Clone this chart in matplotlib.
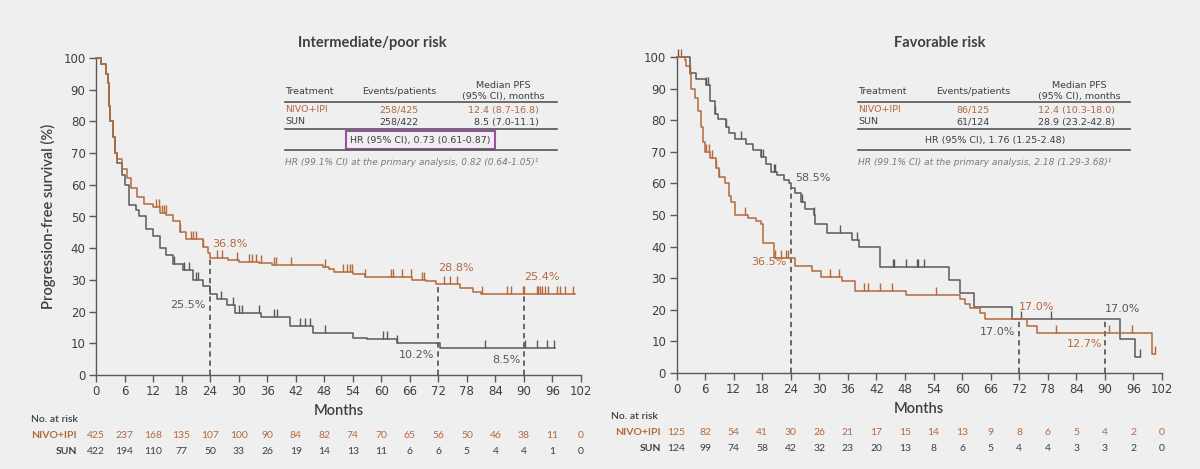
import matplotlib
matplotlib.use("Agg")
import matplotlib.pyplot as plt
import matplotlib.transforms as mtransforms
from matplotlib.lines import Line2D
from matplotlib.patches import Rectangle
import numpy as np

plt.rcParams['font.family'] = ['Lato', 'DejaVu Sans']

# ---------------- data ----------------
months_ticks = list(range(0, 103, 6))
y_ticks = list(range(0, 101, 10))

# Intermediate/poor risk
ip_nivo_t = [0, 1, 2, 2.5, 2.8, 3.0, 3.5, 4.0, 4.5, 5.5, 6.5, 7.3, 8.7, 10, 12, 13.4, 14.8, 16.2, 17.6, 19,
             22.5, 23.5, 24, 27.7, 30, 34.2, 37, 47.8, 49, 50, 54.1, 56.5, 66.4, 69.5, 71.6, 76.5, 79.3, 81,
             85.6, 100.7]
ip_nivo_s = [100, 98, 95, 92, 85, 80, 75, 70, 68, 65, 62, 59, 56, 54, 53, 51, 50.5, 48.5, 45, 43,
             40.5, 38.5, 36.8, 36.2, 35.7, 35.3, 34.7, 34.2, 33.3, 32.6, 31.8, 31.0, 30, 29.5, 28.8, 27.6, 26.2, 25.7,
             25.4, 25.4]
ip_nivo_cens = [12.7, 13.3, 13.8, 14.3, 14.7, 17.6, 20.0, 20.5, 21.1, 22.5, 25.4, 26.5, 29.7, 32.2, 32.9, 33.6,
                34.7, 37.5, 37.8, 41.0, 48.2, 52.0, 52.8, 53.4, 53.9, 56.5, 62.0, 62.4, 64.4, 66.2, 68.6, 69.0,
                73.1, 74.5, 75.9, 81.1, 86.4, 87.2, 89.7, 90.0, 92.7, 93.0, 93.4, 93.9, 94.4, 95.1, 96.9, 97.6,
                98.6, 100.4]

ip_sun_t = [0, 1, 2, 2.5, 2.8, 3.0, 3.5, 4.0, 4.5, 5.5, 6.0, 6.9, 8.4, 9.1, 10.5, 12, 13.4, 14.8, 16.2, 18.3,
            20.5, 22.5, 24, 25.4, 27.5, 29.3, 34.7, 40.8, 45.7, 54.1, 56.9, 63.2, 72.3, 96.5]
ip_sun_s = [100, 98, 95, 92, 85, 80, 75, 70, 67, 63, 60, 53.5, 52, 50, 46, 44, 40, 38, 35, 33,
            30, 28, 25.5, 24, 22, 19.5, 18.4, 15.3, 13.2, 11.8, 11.3, 10.2, 8.5, 8.5]
ip_sun_cens = [16.5, 18.5, 19.5, 21.0, 21.5, 26.3, 28.9, 30.0, 30.7, 34.2, 37.5, 38.0, 42.9, 43.9, 45.0,
               48.2, 60.4, 61.1, 63.2, 81.8, 90.2, 92.7, 94.8, 96.4]

ip_risk_nivo = [425, 237, 168, 135, 107, 100, 90, 84, 82, 74, 70, 65, 56, 50, 46, 38, 11, 0]
ip_risk_sun = [422, 194, 110, 77, 50, 33, 26, 19, 14, 13, 11, 6, 6, 5, 4, 4, 1, 0]

# Favorable risk
fav_nivo_t = [0, 1.7, 2.1, 2.8, 3.1, 3.8, 4.5, 5.2, 5.6, 5.9, 7.0, 8.3, 9.0, 10.1, 11.1, 11.5, 12.2, 15.0,
              16.7, 17.7, 18.1, 20.5, 25.0, 28.5, 30.3, 34.8, 37.6, 48.2, 59.6, 60.7, 61.7, 63.8, 64.9, 73.6,
              75.7, 99.8, 100.5]
fav_nivo_s = [100, 99, 97, 94.7, 90, 87, 83, 78, 73, 70, 68, 65, 62, 60, 56, 54, 50, 49,
              48, 47, 41, 36.5, 34, 32.3, 30.5, 29, 26, 24.7, 23.4, 21.9, 20.5, 19, 17.0, 14.9,
              12.7, 6.1, 6.1]
fav_nivo_cens = [1.0, 6.3, 6.8, 7.5, 8.3, 9.0, 14.3, 20.6, 21.9, 23.0, 23.5, 32.3, 34.2, 39.3, 40.3, 42.8,
                 45.2, 54.6, 79.8, 90.9, 95.7, 100.5]

fav_sun_t = [0, 2.8, 4.2, 6.3, 7.0, 8.0, 8.7, 10.4, 11.1, 12.2, 14.6, 16.0, 17.7, 18.8, 19.8, 21.2, 22.6,
             23.7, 24.0, 25.0, 26.1, 27.1, 28.9, 29.2, 31.7, 36.9, 38.3, 42.8, 57.2, 59.6, 62.4, 70.5, 93.2,
             96.3, 97.4]
fav_sun_s = [100, 95, 93, 91, 86, 82, 80.5, 78, 76, 74, 72.5, 70.5, 68.5, 66, 63.5, 62.5, 61,
             60, 58.5, 57, 54, 52, 50, 47, 44.2, 42.1, 40, 33.7, 29.4, 25.2, 20.8, 17.0, 10.8,
             5.2, 5.2]
fav_sun_cens = [0.3, 2.8, 6.3, 6.6, 8.0, 10.4, 13.6, 17.8, 18.2, 20.4, 20.7, 26.4, 28.9, 34.4, 38.0, 45.4,
                45.7, 48.3, 50.5, 50.8, 52.0, 72.4, 78.6, 97.4]

fav_risk_nivo = [125, 82, 54, 41, 30, 26, 21, 17, 15, 14, 13, 9, 8, 6, 5, 4, 2, 0]
fav_risk_sun = [124, 99, 74, 58, 42, 32, 23, 20, 13, 8, 6, 5, 4, 4, 3, 3, 2, 0]

# ---------------- style ----------------
BG = '#EFEFEF'
ORANGE = '#B5693C'
GRAY = '#595959'
TXT = '#3f3f3f'
PURPLE = '#9B4FA3'
DV = ['DejaVu Sans']

W, H = 1200, 469
fig = plt.figure(figsize=(12, 4.69), dpi=100, facecolor=BG)


def fx(x):
    return x / W


def fy(y):
    return 1 - y / H


def step_val(t, s, x):
    idx = np.searchsorted(np.asarray(t), x, side='right') - 1
    idx = max(0, min(idx, len(s) - 1))
    return s[idx]


def setup_axes(rect):
    ax = fig.add_axes(rect)
    ax.set_facecolor(BG)
    ax.set_xlim(0, 102)
    ax.set_ylim(0, 100)
    ax.set_xticks(months_ticks)
    ax.set_yticks(y_ticks)
    for sp in ['top', 'right']:
        ax.spines[sp].set_visible(False)
    for sp in ['left', 'bottom']:
        ax.spines[sp].set_color(GRAY)
        ax.spines[sp].set_linewidth(1.0)
    ax.tick_params(colors=GRAY, labelcolor=TXT, labelsize=8.5, length=5, width=1.0, pad=2.5)
    for lab in ax.get_xticklabels() + ax.get_yticklabels():
        lab.set_family(DV)
    ax.set_xlabel('Months', fontsize=10.5, color=TXT, fontweight='semibold', labelpad=4)
    return ax


def draw_curve(ax, t, s, cens, color):
    ax.step(t, s, where='post', color=color, lw=1.1, clip_on=False, zorder=3)
    cy = [step_val(t, s, c) for c in cens]
    ax.plot(cens, cy, linestyle='none', marker=2, markersize=6, markeredgewidth=1.0,
            color=color, clip_on=False, zorder=3)


def vdash(ax, x, ytop):
    ax.plot([x, x], [0, ytop], color='#444444', lw=1.1, ls=(0, (3.5, 2.5)), zorder=2)


def risk_table(ax, nivo, sun, y_lab, y_n, y_s, lab_right, lab_left):
    tr = mtransforms.blended_transform_factory(ax.transData, fig.transFigure)
    for m, a, b in zip(months_ticks, nivo, sun):
        ax.text(m, fy(y_n), str(a), transform=tr, ha='center', va='center', fontsize=7.5,
                color=ORANGE, clip_on=False)
        ax.text(m, fy(y_s), str(b), transform=tr, ha='center', va='center', fontsize=7.5,
                color=TXT, clip_on=False)
    fig.text(fx(lab_left), fy(y_lab), 'No. at risk', ha='left', va='center', fontsize=7.5, color=TXT,
             fontweight='semibold')
    fig.text(fx(lab_right), fy(y_n), 'NIVO+IPI', ha='right', va='center', fontsize=7.5, color=ORANGE,
             fontweight='bold')
    fig.text(fx(lab_right), fy(y_s), 'SUN', ha='right', va='center', fontsize=7.5, color=TXT,
             fontweight='bold')


def hline(x0, x1, y, lw=1.2):
    fig.add_artist(Line2D([fx(x0), fx(x1)], [fy(y), fy(y)], color='#555555', lw=lw))


def pfs_table(x0, x1, ev_c, med_r, ev_n, ev_s, med_n, med_s, hr_text, hr_x, primary, box=None):
    fs = 6.8
    kw = dict(va='center', fontsize=fs, family=DV)
    fig.text(fx(x0), fy(91), 'Treatment', ha='left', color=TXT, **kw)
    fig.text(fx(ev_c), fy(91), 'Events/patients', ha='center', color=TXT, **kw)
    fig.text(fx(med_r - 36), fy(85), 'Median PFS', ha='center', color=TXT, **kw)
    fig.text(fx(med_r - 36), fy(96.5), '(95% CI), months', ha='center', color=TXT, **kw)
    hline(x0, x1, 102.5)
    fig.text(fx(x0), fy(110), 'NIVO+IPI', ha='left', color=ORANGE, **kw)
    fig.text(fx(x0), fy(122), 'SUN', ha='left', color=TXT, **kw)
    fig.text(fx(ev_c), fy(110), ev_n, ha='center', color=ORANGE, **kw)
    fig.text(fx(ev_c), fy(122), ev_s, ha='center', color=TXT, **kw)
    fig.text(fx(med_r), fy(110), med_n, ha='right', color=ORANGE, **kw)
    fig.text(fx(med_r), fy(122), med_s, ha='right', color=TXT, **kw)
    hline(x0, x1, 129)
    fig.text(fx(hr_x), fy(140.5), hr_text, ha='center', color=TXT, **kw)
    if box is not None:
        bx0, bx1 = box
        fig.add_artist(Rectangle((fx(bx0), fy(149)), fx(bx1 - bx0), (149 - 131.5) / H,
                                 fill=False, edgecolor=PURPLE, lw=1.5))
    hline(x0, x1, 150.5)
    fig.text(fx(x0), fy(162), primary, ha='left', color='#7a7a7a', fontstyle='italic',
             va='center', fontsize=6.5, family=DV)


ann_kw = dict(fontsize=8, family=DV)

# ---------------- left panel ----------------
axL = setup_axes([fx(96), fy(375), (581 - 96) / W, (375 - 58) / H])
axL.set_ylabel('Progression-free survival (%)', fontsize=10.5, color=TXT, fontweight='semibold', labelpad=5)
draw_curve(axL, ip_sun_t, ip_sun_s, ip_sun_cens, GRAY)
draw_curve(axL, ip_nivo_t, ip_nivo_s, ip_nivo_cens, ORANGE)
vdash(axL, 24, 36.8)
vdash(axL, 72, 28.8)
vdash(axL, 90, 25.4)
axL.text(24.4, 41.3, '36.8%', color=ORANGE, ha='left', va='center', **ann_kw)
axL.text(23.1, 22.0, '25.5%', color=GRAY, ha='right', va='center', **ann_kw)
axL.text(72.0, 33.8, '28.8%', color=ORANGE, ha='left', va='center', **ann_kw)
axL.text(90.0, 30.9, '25.4%', color=ORANGE, ha='left', va='center', **ann_kw)
axL.text(71.1, 6.3, '10.2%', color=GRAY, ha='right', va='center', **ann_kw)
axL.text(89.2, 4.7, '8.5%', color=GRAY, ha='right', va='center', **ann_kw)
fig.text(fx(372), fy(43), 'Intermediate/poor risk', ha='center', va='center', fontsize=10.5,
         color=TXT, fontweight='bold')
risk_table(axL, ip_risk_nivo, ip_risk_sun, 419, 435, 451, 77, 31)
pfs_table(285, 557, 399, 539, '258/425', '258/422', '12.4 (8.7-16.8)', '8.5 (7.0-11.1)',
          'HR (95% CI), 0.73 (0.61-0.87)', 420,
          'HR (99.1% CI) at the primary analysis, 0.82 (0.64-1.05)\u00b9', box=(346, 495))

# ---------------- right panel ----------------
axR = setup_axes([fx(676.5), fy(373), (1162 - 676.5) / W, (373 - 57) / H])
draw_curve(axR, fav_sun_t, fav_sun_s, fav_sun_cens, GRAY)
draw_curve(axR, fav_nivo_t, fav_nivo_s, fav_nivo_cens, ORANGE)
vdash(axR, 24, 58.5)
vdash(axR, 72, 17.0)
vdash(axR, 90, 17.0)
axR.text(25.0, 61.7, '58.5%', color=GRAY, ha='left', va='center', **ann_kw)
axR.text(23.1, 35.2, '36.5%', color=ORANGE, ha='right', va='center', **ann_kw)
axR.text(72.0, 21.0, '17.0%', color=ORANGE, ha='left', va='center', **ann_kw)
axR.text(71.2, 13.1, '17.0%', color=GRAY, ha='right', va='center', **ann_kw)
axR.text(90.0, 20.2, '17.0%', color=GRAY, ha='left', va='center', **ann_kw)
axR.text(89.4, 9.2, '12.7%', color=ORANGE, ha='right', va='center', **ann_kw)
fig.text(fx(940), fy(43), 'Favorable risk', ha='center', va='center', fontsize=10.5,
         color=TXT, fontweight='bold')
risk_table(axR, fav_risk_nivo, fav_risk_sun, 416, 432, 448, 661, 611)
pfs_table(858, 1130, 973, 1115, '86/125', '61/124', '12.4 (10.3-18.0)', '28.9 (23.2-42.8)',
          'HR (95% CI), 1.76 (1.25-2.48)', 995,
          'HR (99.1% CI) at the primary analysis, 2.18 (1.29-3.68)\u00b9', box=None)

fig.savefig('out.png', dpi=100, facecolor=BG)
